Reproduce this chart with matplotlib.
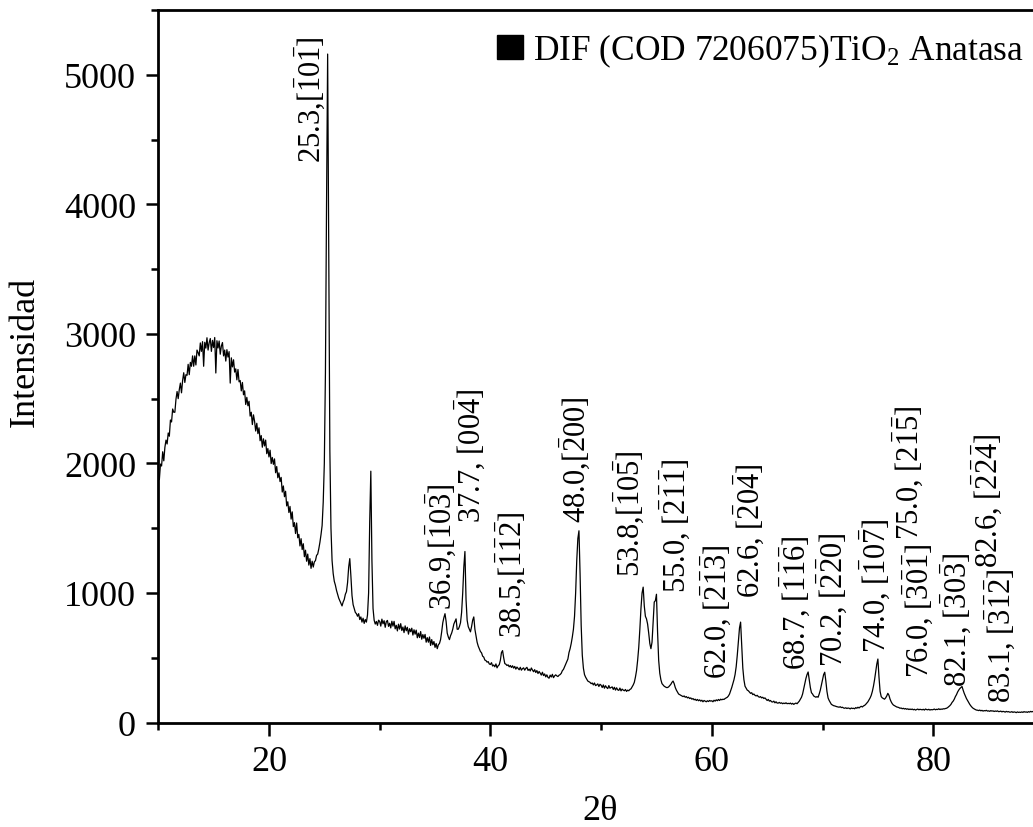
import numpy as np
import matplotlib
matplotlib.use('Agg')
from matplotlib import pyplot as plt
from matplotlib.patches import Patch

plt.rcParams['font.family'] = ['Liberation Serif', 'DejaVu Serif']
plt.rcParams['mathtext.fontset'] = 'custom'
plt.rcParams['mathtext.rm'] = 'Liberation Serif'
plt.rcParams['mathtext.it'] = 'Liberation Serif:italic'

# XRD scan, 10-89 deg 2theta, 0.1 deg step (one row per degree)
two_theta = np.round(np.arange(10.0, 89.05, 0.1), 1)
intensity = [
    1890, 1875, 1995, 1980, 2090, 2020, 2125, 2180, 2150, 2235,  # 10
    2210, 2335, 2320, 2420, 2395, 2395, 2495, 2555, 2500, 2570,  # 11
    2620, 2545, 2640, 2700, 2625, 2685, 2680, 2765, 2685, 2780,  # 12
    2750, 2830, 2750, 2830, 2760, 2875, 2855, 2830, 2930, 2865,  # 13
    2940, 2750, 2935, 2890, 2970, 2875, 2932, 2964, 2865, 2950,  # 14
    2895, 2972, 2698, 2947, 2891, 2945, 2843, 2906, 2933, 2830,  # 15
    2875, 2790, 2878, 2821, 2863, 2620, 2815, 2745, 2800, 2705,  # 16
    2730, 2645, 2725, 2630, 2640, 2560, 2625, 2530, 2560, 2455,  # 17
    2510, 2445, 2480, 2365, 2395, 2300, 2375, 2325, 2250, 2310,  # 18
    2230, 2275, 2175, 2215, 2125, 2190, 2135, 2180, 2075, 2115,  # 19
    2050, 2102, 1999, 2046, 1993, 2035, 1928, 1976, 1889, 1927,  # 20
    1860, 1892, 1779, 1826, 1743, 1785, 1672, 1704, 1621, 1668,  # 21
    1570, 1626, 1512, 1543, 1459, 1540, 1426, 1452, 1363, 1419,  # 22
    1335, 1380, 1280, 1330, 1245, 1300, 1215, 1265, 1190, 1245,  # 23
    1200, 1240, 1250, 1290, 1300, 1340, 1390, 1450, 1520, 1700,  # 24
    2000, 2700, 4000, 5160, 3700, 2100, 1500, 1250, 1150, 1090,  # 25
    1060, 1020, 990, 960, 940, 920, 900, 930, 950, 990,  # 26
    1010, 1080, 1200, 1265, 1130, 980, 910, 880, 850, 840,  # 27
    820, 840, 795, 815, 775, 805, 765, 795, 775, 830,  # 28
    1000, 1550, 1940, 1250, 880, 790, 760, 780, 750, 790,  # 29
    780, 744, 798, 762, 786, 735, 779, 788, 742, 766,  # 30
    730, 782, 744, 781, 723, 750, 707, 759, 721, 763,  # 31
    710, 737, 694, 746, 708, 735, 682, 724, 701, 728,  # 32
    675, 716, 682, 713, 654, 690, 656, 702, 643, 679,  # 33
    650, 680, 620, 655, 620, 660, 595, 640, 600, 625,  # 34
    580, 610, 570, 600, 610, 640, 700, 770, 810, 840,  # 35
    780, 690, 660, 640, 670, 690, 720, 760, 780, 800,  # 36
    720, 720, 740, 770, 850, 1000, 1200, 1320, 950, 790,  # 37
    740, 720, 700, 740, 790, 815, 720, 670, 620, 590,  # 38
    570, 548, 538, 512, 505, 482, 478, 466, 470, 452,  # 39
    448, 462, 436, 444, 430, 452, 422, 438, 446, 480,  # 40
    540, 555, 500, 455, 450, 440, 445, 430, 440, 425,  # 41
    438, 420, 433, 412, 428, 418, 407, 426, 404, 416,  # 42
    422, 404, 418, 426, 402, 412, 398, 421, 405, 392,  # 43
    408, 386, 401, 378, 394, 381, 366, 388, 362, 375,  # 44
    352, 368, 348, 342, 366, 351, 372, 346, 360, 368,  # 45
    360, 355, 365, 370, 380, 400, 410, 430, 450, 470,  # 46
    490, 540, 570, 610, 660, 720, 820, 1000, 1250, 1420,  # 47
    1480, 1150, 750, 520, 420, 370, 350, 335, 320, 315,  # 48
    310, 300, 305, 290, 305, 285, 290, 298, 278, 295,  # 49
    288, 270, 290, 265, 284, 270, 262, 285, 265, 270,  # 50
    275, 255, 272, 250, 268, 252, 248, 266, 244, 258,  # 51
    250, 245, 255, 240, 250, 245, 255, 260, 275, 290,  # 52
    310, 350, 400, 480, 580, 720, 880, 1000, 1045, 900,  # 53
    820, 800, 760, 690, 610, 570, 620, 780, 930, 940,  # 54
    990, 700, 480, 380, 330, 300, 290, 280, 275, 270,  # 55
    270, 275, 285, 295, 310, 320, 300, 270, 250, 235,  # 56
    220, 215, 210, 205, 200, 205, 195, 200, 190, 195,  # 57
    185, 190, 180, 185, 175, 180, 170, 178, 168, 175,  # 58
    165, 172, 160, 170, 165, 160, 168, 162, 170, 165,  # 59
    168, 160, 172, 165, 175, 168, 178, 170, 180, 175,  # 60
    180, 178, 185, 190, 195, 205, 220, 245, 270, 300,  # 61
    330, 370, 430, 520, 630, 730, 775, 600, 420, 330,  # 62
    280, 265, 250, 245, 235, 225, 230, 215, 220, 210,  # 63
    205, 210, 200, 195, 200, 190, 195, 185, 190, 180,  # 64
    170, 178, 165, 170, 160, 158, 165, 152, 160, 150,  # 65
    150, 155, 148, 152, 145, 150, 146, 152, 145, 148,  # 66
    145, 150, 142, 148, 140, 146, 150, 145, 155, 165,  # 67
    180, 195, 220, 260, 300, 340, 370, 390, 330, 270,  # 68
    230, 220, 205, 200, 195, 200, 195, 220, 250, 290,  # 69
    330, 370, 388, 320, 240, 190, 170, 155, 140, 135,  # 70
    130, 128, 125, 122, 120, 118, 122, 115, 118, 112,  # 71
    110, 114, 108, 112, 110, 105, 112, 108, 110, 106,  # 72
    115, 110, 118, 112, 120, 125, 120, 128, 132, 140,  # 73
    150, 160, 175, 190, 210, 240, 280, 330, 390, 450,  # 74
    490, 350, 240, 200, 190, 185, 180, 190, 205, 225,  # 75
    210, 180, 160, 145, 135, 130, 125, 120, 118, 115,  # 76
    110, 112, 106, 110, 104, 108, 102, 106, 100, 104,  # 77
    100, 104, 98, 102, 96, 100, 104, 98, 102, 100,  # 78
    98, 102, 96, 104, 100, 98, 102, 96, 100, 98,  # 79
    100, 104, 98, 102, 100, 106, 100, 104, 102, 106,  # 80
    105, 108, 110, 115, 122, 130, 140, 155, 165, 180,  # 81
    200, 215, 235, 250, 262, 270, 278, 250, 225, 205,  # 82
    185, 170, 155, 140, 128, 118, 110, 105, 100, 96,  # 83
    95, 92, 96, 90, 94, 88, 92, 90, 94, 88,  # 84
    90, 86, 92, 88, 90, 85, 89, 86, 90, 84,  # 85
    85, 88, 82, 86, 84, 80, 86, 82, 84, 80,  # 86
    80, 84, 78, 82, 80, 76, 82, 78, 80, 78,  # 87
    82, 78, 84, 80, 82, 78, 84, 80, 86, 82,  # 88
    85,  # 89
]

# peak labels: position, separator, Miller indices, which digits carry a bar
peak_angle = ['25.3', '36.9', '37.7', '38.5', '48.0', '53.8', '55.0', '62.0', '62.6',
              '68.7', '70.2', '74.0', '75.0', '76.0', '82.1', '82.6', '83.1']
peak_sep = [',', ',', ', ', ',', ',', ',', ', ', ', ', ', ',
            ', ', ', ', ', ', ', ', ', ', ', ', ', ', ', ']
peak_hkl = ['101', '103', '004', '112', '200', '105', '211', '213', '204',
            '116', '220', '107', '215', '301', '303', '224', '312']
peak_bar = ['101', '101', '001', '111', '100', '101', '111', '111', '101',
            '111', '110', '101', '011', '111', '101', '111', '111']

# where each label sits (x centre, bottom) in data units
label_x = [23.7, 35.55, 38.15, 41.85, 47.65, 52.5, 56.65, 60.4, 63.35,
           67.5, 70.85, 74.75, 77.7, 78.6, 82.05, 84.85, 86.0]
label_y = [4330, 880, 1550, 660, 1550, 1130, 1010, 340, 970,
           415, 435, 545, 1420, 350, 285, 1200, 160]


def miller_label(angle, sep, hkl, bar):
    digits = ''.join(r'\bar{%s}' % d if b == '1' else d for d, b in zip(hkl, bar))
    return angle + sep + '$[' + digits + ']$'


fig = plt.figure(figsize=(10.33, 8.28), dpi=100)
ax = fig.add_axes([0.1532, 0.1262, 0.8574, 0.8605])

ax.plot(two_theta, intensity, color='black', lw=0.9)

for i in range(len(peak_angle)):
    ax.text(label_x[i], label_y[i],
            miller_label(peak_angle[i], peak_sep[i], peak_hkl[i], peak_bar[i]),
            rotation=90, ha='center', va='bottom', fontsize=22)

ax.set_xlim(10, 90)
ax.set_ylim(0, 5500)
ax.set_xticks([20, 40, 60, 80])
ax.set_xticks([10, 30, 50, 70, 90], minor=True)
ax.set_yticks(range(0, 5001, 1000))
ax.set_yticks(range(500, 5501, 1000), minor=True)

for side in ['left', 'bottom', 'top', 'right']:
    ax.spines[side].set_linewidth(2.0)

ax.tick_params(which='major', direction='out', length=9, width=1.8,
               labelsize=26, pad=7)
ax.tick_params(which='minor', direction='out', length=5, width=1.8)
ax.tick_params(top=False, right=False, which='both')

ax.set_xlabel('2θ', fontsize=26)
ax.set_ylabel('Intensidad', fontsize=26)
ax.xaxis.set_label_coords(0.4988, -0.100)
ax.yaxis.set_label_coords(-0.131, 0.521)

ax.legend(handles=[Patch(facecolor='black', edgecolor='black')],
          labels=[r'DIF (COD 7206075)TiO$_2$ Anatasa'],
          loc='upper left', bbox_to_anchor=(497 / 1033, 1 - 33 / 828),
          bbox_transform=fig.transFigure, frameon=False, fontsize=25.5,
          handlelength=0.72, handleheight=0.65, handletextpad=0.3,
          borderpad=0, borderaxespad=0)

plt.savefig('out.png', dpi=100)
